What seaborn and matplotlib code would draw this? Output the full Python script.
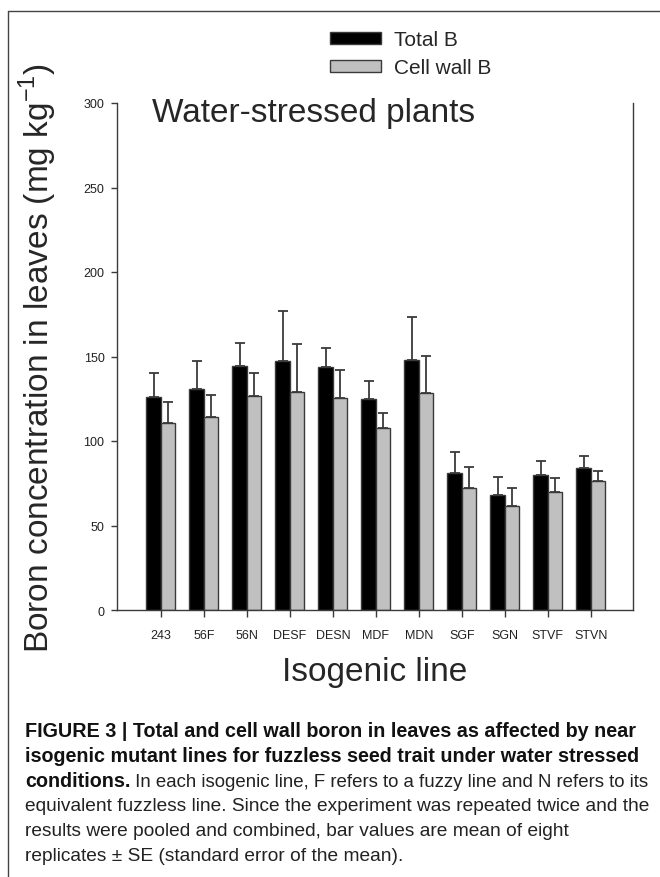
import matplotlib
matplotlib.use('Agg')
import matplotlib.pyplot as plt
from matplotlib.patches import Patch
from matplotlib.lines import Line2D
import seaborn as sns
import pandas as pd
import numpy as np

# values (mg kg-1), SE shown as upper error bars
lines = ['243', '56F', '56N', 'DESF', 'DESN', 'MDF', 'MDN', 'SGF', 'SGN', 'STVF', 'STVN']
total_b = [126.2, 131.0, 144.2, 147.2, 143.6, 124.9, 147.7, 81.1, 67.9, 79.9, 84.2]
total_se = [14.2, 16.2, 13.8, 29.7, 11.4, 10.6, 25.5, 12.2, 10.8, 8.4, 7.1]
cell_wall_b = [110.5, 114.4, 126.8, 129.0, 125.4, 107.7, 128.4, 72.2, 61.4, 69.6, 76.3]
cell_wall_se = [12.4, 13.0, 13.6, 28.4, 16.8, 8.7, 21.7, 12.4, 10.8, 8.5, 6.1]
series = ['Total B', 'Cell wall B']
yticks = [0, 50, 100, 150, 200, 250, 300]

caption_bold = ['FIGURE 3 | Total and cell wall boron in leaves as affected by near',
                'isogenic mutant lines for fuzzless seed trait under water stressed',
                'conditions.']
caption_rest = [' In each isogenic line, F refers to a fuzzy line and N refers to its',
                'equivalent fuzzless line. Since the experiment was repeated twice and the',
                'results were pooled and combined, bar values are mean of eight',
                'replicates \u00b1 SE (standard error of the mean).']

sns.set_style('ticks')
plt.rcParams['font.family'] = ['Liberation Sans', 'DejaVu Sans']

df = pd.DataFrame({
    'line': lines * 2,
    'type': [series[0]] * len(lines) + [series[1]] * len(lines),
    'value': total_b + cell_wall_b,
})

W, H = 660, 878
fig = plt.figure(figsize=(W / 100, H / 100), dpi=100)
ax = fig.add_axes([117 / W, 1 - 611 / H, 516 / W, 507 / H])

edge = '#3a3a3a'
sns.barplot(data=df, x='line', y='value', hue='type', palette=['black', '#c0c0c0'],
            width=0.68, edgecolor=edge, linewidth=1, errorbar=None, legend=False, ax=ax)

# upper-only error bars on top of each bar
for cont, se in zip(ax.containers, [total_se, cell_wall_se]):
    xs = [p.get_x() + p.get_width() / 2 for p in cont]
    ys = [p.get_height() for p in cont]
    ax.errorbar(xs, ys, yerr=[np.zeros(len(se)), se], fmt='none', ecolor=edge,
                elinewidth=1.3, capsize=3.6, capthick=1.3, zorder=3)

ax.set_xlim(-1.02, 10.98)
ax.set_ylim(0, 300)
ax.set_yticks(yticks)
ax.spines['top'].set_visible(False)
for s in ['left', 'right', 'bottom']:
    ax.spines[s].set_color(edge)
    ax.spines[s].set_linewidth(1)
ax.tick_params(axis='y', direction='out', length=4, width=1, color=edge,
               labelsize=9, pad=5, labelcolor='#222222')
ax.tick_params(axis='x', direction='out', length=5, width=1, color=edge,
               labelsize=9, pad=9, labelcolor='#222222')

ax.set_ylabel('Boron concentration in leaves (mg kg$^{\\mathregular{-1}}$)', fontsize=24)
ax.yaxis.set_label_coords(-0.112, 0.5)
ax.set_xlabel('Isogenic line', fontsize=24, va='baseline')
ax.xaxis.set_label_coords(0.5, -0.139)

fig.text(152 / W, 1 - 122 / H, 'Water-stressed plants', fontsize=24, va='baseline')

handles = [Patch(facecolor='black', edgecolor=edge), Patch(facecolor='#c0c0c0', edgecolor=edge)]
fig.legend(handles, series, loc='upper left', bbox_to_anchor=(330 / W, 1 - 31 / H),
           frameon=False, fontsize=15, handlelength=2.45, handleheight=0.5,
           labelspacing=0.45, handletextpad=0.6, borderpad=0, borderaxespad=0)

# page border (left and top edge visible)
fig.add_artist(Line2D([8 / W, 8 / W], [0, 1 - 12 / H], transform=fig.transFigure, color='#444444', lw=1))
fig.add_artist(Line2D([8 / W, 1], [1 - 12 / H, 1 - 12 / H], transform=fig.transFigure, color='#444444', lw=1))

# caption, fitted to the line widths of the original
renderer = fig.canvas.get_renderer()


def fit(txt, target):
    w = txt.get_window_extent(renderer).width
    txt.set_fontsize(txt.get_fontsize() * target / w)


baselines = [737, 762, 787, 811, 836, 861]
x0 = 25
right = 650
probe_r = fig.text(x0 / W, 1 - baselines[3] / H, caption_rest[1], fontsize=13,
                   va='baseline', color='#222222')
fit(probe_r, right - x0)
reg_size = probe_r.get_fontsize()
probe_b = fig.text(x0 / W, 1 - baselines[1] / H, caption_bold[1], fontsize=13,
                   fontweight='bold', va='baseline', color='#111111')
fit(probe_b, 636 - x0)
bold_size = probe_b.get_fontsize()

fig.text(x0 / W, 1 - baselines[0] / H, caption_bold[0], fontsize=bold_size,
         fontweight='bold', va='baseline', color='#111111')
cb = fig.text(x0 / W, 1 - baselines[2] / H, caption_bold[2], fontsize=bold_size,
              fontweight='bold', va='baseline', color='#111111')
xb = cb.get_window_extent(renderer).x1
rest3 = fig.text(xb / W, 1 - baselines[2] / H, caption_rest[0], fontsize=reg_size,
                 va='baseline', color='#222222')
if rest3.get_window_extent(renderer).x1 > right:
    fit(rest3, right - xb)
fig.text(x0 / W, 1 - baselines[4] / H, caption_rest[2], fontsize=reg_size,
         va='baseline', color='#222222')
fig.text(x0 / W, 1 - baselines[5] / H, caption_rest[3], fontsize=reg_size,
         va='baseline', color='#222222')

fig.savefig('out.png', dpi=100)
